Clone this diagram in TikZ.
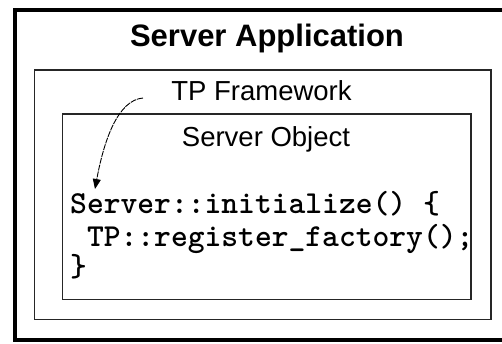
\documentclass[tikz,border=0pt]{standalone}
\usepackage{fontspec}
\setmainfont{Liberation Sans}
\usetikzlibrary{arrows.meta}
\tikzset{
  box/.style={draw=black!85, line width=1.3pt, inner sep=0pt},
  title/.style={font=\fontsize{31}{31}\selectfont\bfseries, anchor=base, inner sep=0pt},
  label/.style={font=\fontsize{27.5}{27.5}\selectfont, anchor=base, inner sep=0pt},
  code/.style={font=\fontsize{32}{32}\selectfont\ttfamily\bfseries, anchor=base west, inner sep=0pt},
  calls/.style={line width=0.9pt, dash pattern=on 6pt off 1pt, -{Triangle[width=8pt,length=10pt]}}
}
\begin{document}
\begin{tikzpicture}[x=1pt,y=-1pt]
  \useasboundingbox (0,0) rectangle (502,343);
  \fill[white] (0,0) rectangle (502,343);
  % application frame (runs past the right edge)
  \node[draw, line width=4pt, minimum width=505pt, minimum height=329.5pt, inner sep=0pt] (app) at (267,174.75) {};
  % framework and object frames
  \node[box, minimum width=456.7pt, minimum height=249.5pt] (fw) at (262.65,194.75) {};
  \node[box, minimum width=408.3pt, minimum height=185.3pt] (obj) at (266.85,206.65) {};
  % headings
  \node[title] (apptitle) at (267,46) {Server Application};
  \node[label] (fwtitle) at (261.5,100.5) {TP Framework};
  \node[label] (objtitle) at (266,146.5) {Server Object};
  % code, cut off at the object frame
  \begin{scope}
    \clip (obj.north west) rectangle (obj.south east);
    \node[code] (l1) at (70,213) {Server::initialize() \{};
    \node[code] (l2) at (70,246.5) {\ TP::register\_factory();};
    \node[code] (l3) at (70,276) {\}};
  \end{scope}
  % registration call
  \coordinate (src) at (143,98);
  \coordinate (dst) at (95,189);
  \draw[calls] (src) .. controls (118,100) and (104,140) .. (dst);
\end{tikzpicture}
\end{document}
